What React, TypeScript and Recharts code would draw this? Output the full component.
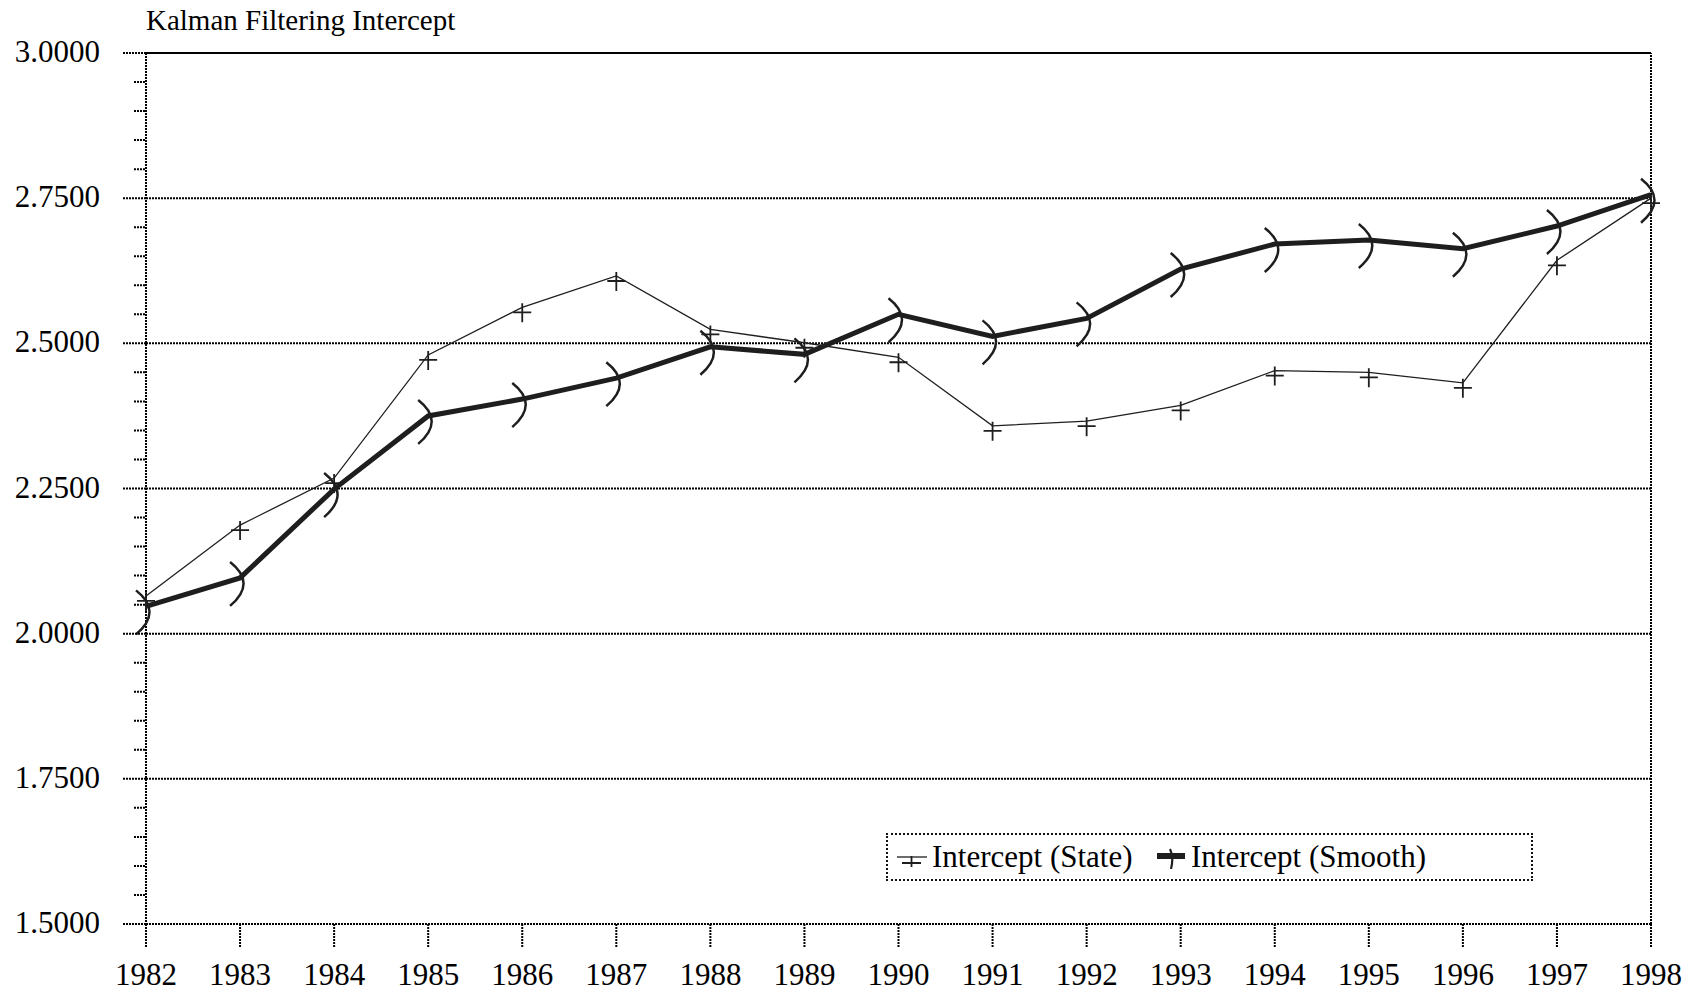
import { Line, LineChart, ReferenceLine, XAxis, YAxis } from "recharts";

const years = [
  1982, 1983, 1984, 1985, 1986, 1987, 1988, 1989, 1990, 1991, 1992, 1993,
  1994, 1995, 1996, 1997, 1998,
];
const stateValues = [
  2.065, 2.187, 2.268, 2.48, 2.562, 2.616, 2.524, 2.501, 2.476, 2.358, 2.366,
  2.393, 2.453, 2.45, 2.432, 2.643, 2.75,
];
const smoothValues = [
  2.047, 2.096, 2.249, 2.375, 2.404, 2.44, 2.494, 2.481, 2.55, 2.512, 2.543,
  2.628, 2.671, 2.678, 2.663, 2.702, 2.756,
];
const majorTicks = [1.5, 1.75, 2.0, 2.25, 2.5, 2.75, 3.0];
const yTicks = [
  1.5, 1.55, 1.6, 1.65, 1.7, 1.75, 1.8, 1.85, 1.9, 1.95, 2.0, 2.05, 2.1, 2.15,
  2.2, 2.25, 2.3, 2.35, 2.4, 2.45, 2.5, 2.55, 2.6, 2.65, 2.7, 2.75, 2.8, 2.85,
  2.9, 2.95, 3.0,
];
const gridLines = [1.75, 2.0, 2.25, 2.5, 2.75];
const title = "Kalman Filtering Intercept";
const seriesNames = ["Intercept (State)", "Intercept (Smooth)"];

const data = years.map((year, i) => ({
  year,
  state: stateValues[i],
  smooth: smoothValues[i],
}));

const FONT = '"Liberation Serif", "Times New Roman", serif';
const INK = "#1e1e1e";
const DOTS = "2 1";

function isMajor(v: number) {
  return majorTicks.some((m) => Math.abs(m - v) < 1e-6);
}

function YTick(props: any) {
  const { x, y, payload } = props;
  const major = isMajor(payload.value);
  return (
    <g>
      <line
        x1={x - (major ? 23 : 12)}
        x2={x}
        y1={y}
        y2={y}
        stroke="#000"
        strokeWidth={2}
        strokeDasharray={DOTS}
      />
      {major && (
        <text
          x={x - 46}
          y={y + 9}
          textAnchor="end"
          fontFamily={FONT}
          fontSize={31}
          fill="#000"
        >
          {payload.value.toFixed(4)}
        </text>
      )}
    </g>
  );
}

function XTick(props: any) {
  const { x, y, payload } = props;
  return (
    <g>
      <line
        x1={x}
        x2={x}
        y1={y}
        y2={y + 23}
        stroke="#000"
        strokeWidth={2}
        strokeDasharray={DOTS}
      />
      <text
        x={x}
        y={y + 61}
        textAnchor="middle"
        fontFamily={FONT}
        fontSize={31}
        fill="#000"
      >
        {payload.value}
      </text>
    </g>
  );
}

function CrossDot(props: any) {
  const { cx, cy } = props;
  if (cx == null || cy == null) return null;
  return (
    <path
      d={`M${cx - 9},${cy + 5}H${cx + 9}M${cx},${cy - 4}V${cy + 15}`}
      stroke={INK}
      strokeWidth={1.8}
      fill="none"
    />
  );
}

// ")" shaped marker sitting on the point
function ArcDot(props: any) {
  const { cx, cy } = props;
  if (cx == null || cy == null) return null;
  return (
    <path
      d={`M${cx - 10},${cy - 16}Q${cx + 17},${cy + 5} ${cx - 10},${cy + 28}`}
      stroke={INK}
      strokeWidth={2.5}
      fill="none"
    />
  );
}

export default function App() {
  return (
    <div
      style={{
        position: "absolute",
        left: 0,
        top: 0,
        width: 1698,
        height: 993,
        background: "#fff",
        fontFamily: FONT,
      }}
    >
      <div
        style={{
          position: "absolute",
          left: 146,
          top: 0,
          fontSize: 29,
          lineHeight: "40px",
          color: "#000",
          whiteSpace: "nowrap",
        }}
      >
        {title}
      </div>

      <LineChart
        width={1698}
        height={993}
        data={data}
        margin={{ top: 53, right: 47, bottom: 0, left: 0 }}
      >
        <XAxis
          type="number"
          dataKey="year"
          domain={[1982, 1998]}
          ticks={years}
          interval={0}
          height={69}
          tickSize={0}
          tickMargin={0}
          tick={<XTick />}
          axisLine={{ stroke: "#000", strokeWidth: 2, strokeDasharray: DOTS }}
        />
        <YAxis
          type="number"
          domain={[1.5, 3]}
          ticks={yTicks}
          interval={0}
          width={146}
          tickSize={0}
          tickMargin={0}
          tick={<YTick />}
          axisLine={{ stroke: "#000", strokeWidth: 2, strokeDasharray: DOTS }}
        />
        {gridLines.map((v) => (
          <ReferenceLine
            key={v}
            y={v}
            stroke="#000"
            strokeWidth={2}
            strokeDasharray={DOTS}
          />
        ))}
        <ReferenceLine y={3} stroke="#000" strokeWidth={2.2} />
        <ReferenceLine
          x={1998}
          stroke="#000"
          strokeWidth={2}
          strokeDasharray={DOTS}
        />
        <Line
          type="linear"
          dataKey="state"
          name={seriesNames[0]}
          stroke={INK}
          strokeWidth={1.3}
          dot={<CrossDot />}
          activeDot={false}
          isAnimationActive={false}
        />
        <Line
          type="linear"
          dataKey="smooth"
          name={seriesNames[1]}
          stroke={INK}
          strokeWidth={5}
          dot={<ArcDot />}
          activeDot={false}
          isAnimationActive={false}
        />
      </LineChart>

      <div
        style={{
          position: "absolute",
          left: 886,
          top: 833,
          width: 647,
          height: 48,
          boxSizing: "border-box",
          border: "2px dotted #111",
          background: "#fff",
          fontSize: 31,
          color: "#000",
        }}
      >
        <svg
          width={30}
          height={20}
          style={{ position: "absolute", left: 9, top: 12 }}
        >
          <line x1={0} x2={30} y1={10} y2={10} stroke={INK} strokeWidth={1.3} />
          <path d="M5,16H24M14.5,9V26" stroke={INK} strokeWidth={1.8} />
        </svg>
        <span
          style={{
            position: "absolute",
            left: 44,
            top: 4,
            lineHeight: "36px",
            whiteSpace: "nowrap",
          }}
        >
          {seriesNames[0]}
        </span>
        <svg
          width={28}
          height={24}
          style={{ position: "absolute", left: 269, top: 10 }}
        >
          <line x1={0} x2={28} y1={11} y2={11} stroke={INK} strokeWidth={6} />
          <path d="M13,4Q17,12 14,24" stroke={INK} strokeWidth={2.2} fill="none" />
        </svg>
        <span
          style={{
            position: "absolute",
            left: 303,
            top: 4,
            lineHeight: "36px",
            whiteSpace: "nowrap",
          }}
        >
          {seriesNames[1]}
        </span>
      </div>
    </div>
  );
}
